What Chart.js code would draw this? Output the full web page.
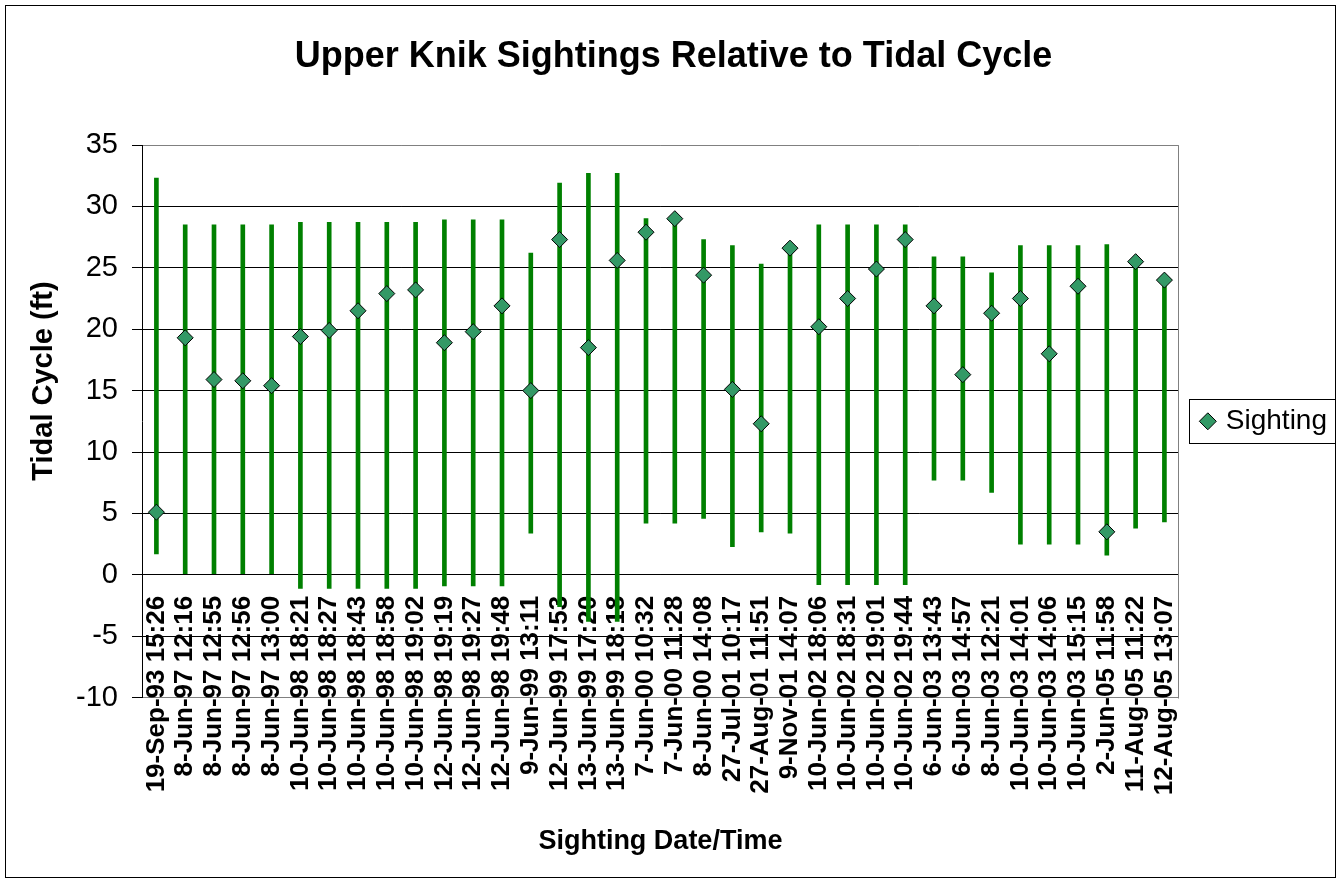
<!DOCTYPE html>
<html>
<head>
<meta charset="utf-8">
<script src="https://cdn.jsdelivr.net/npm/chart.js@4.4.1/dist/chart.umd.min.js"></script>
<style>
html,body{margin:0;padding:0;background:#fff;}
#wrap{width:1342px;height:883px;}
</style>
</head>
<body>
<div id="wrap"><canvas id="c" width="1342" height="883"></canvas></div>
<script>
// ---- Data ----
const categories = [
  '19-Sep-93 15:26','8-Jun-97 12:16','8-Jun-97 12:55','8-Jun-97 12:56','8-Jun-97 13:00',
  '10-Jun-98 18:21','10-Jun-98 18:27','10-Jun-98 18:43','10-Jun-98 18:58','10-Jun-98 19:02',
  '12-Jun-98 19:19','12-Jun-98 19:27','12-Jun-98 19:48','9-Jun-99 13:11','12-Jun-99 17:53',
  '13-Jun-99 17:20','13-Jun-99 18:18','7-Jun-00 10:32','7-Jun-00 11:28','8-Jun-00 14:08',
  '27-Jul-01 10:17','27-Aug-01 11:51','9-Nov-01 14:07','10-Jun-02 18:06','10-Jun-02 18:31',
  '10-Jun-02 19:01','10-Jun-02 19:44','6-Jun-03 13:43','6-Jun-03 14:57','8-Jun-03 12:21',
  '10-Jun-03 14:01','10-Jun-03 14:06','10-Jun-03 15:15','2-Jun-05 11:58','11-Aug-05 11:22',
  '12-Aug-05 13:07'
];
const highTide = [
  32.3, 28.5, 28.5, 28.5, 28.5,
  28.7, 28.7, 28.7, 28.7, 28.7,
  28.9, 28.9, 28.9, 26.2, 31.9,
  32.7, 32.7, 29.0, 29.0, 27.3,
  26.8, 25.3, 26.6, 28.5, 28.5,
  28.5, 28.5, 25.9, 25.9, 24.6,
  26.8, 26.8, 26.8, 26.9, 25.5,
  24.0
];
const lowTide = [
  1.7, 0.1, 0.1, 0.1, 0.1,
  -1.1, -1.1, -1.1, -1.1, -1.1,
  -0.9, -0.9, -0.9, 3.4, -2.6,
  -3.8, -3.8, 4.2, 4.2, 4.6,
  2.3, 3.5, 3.4, -0.8, -0.8,
  -0.8, -0.8, 7.7, 7.7, 6.7,
  2.5, 2.5, 2.5, 1.6, 3.8,
  4.3
];
const sighting = [
  5.1, 19.3, 15.9, 15.8, 15.4,
  19.4, 19.9, 21.5, 22.9, 23.2,
  18.9, 19.8, 21.9, 15.0, 27.3,
  18.5, 25.6, 27.9, 29.0, 24.4,
  15.1, 12.3, 26.6, 20.2, 22.5,
  24.9, 27.3, 21.9, 16.3, 21.3,
  22.5, 18.0, 23.5, 3.5, 25.5,
  24.0
];
const yMin = -10, yMax = 35, yStep = 5;
const chartTitle = 'Upper Knik Sightings Relative to Tidal Cycle';
const xTitle = 'Sighting Date/Time';
const yTitle = 'Tidal Cycle (ft)';
const seriesName = 'Sighting';

// ---- Styling helpers ----
Chart.defaults.font.family = "'Liberation Sans', Arial, sans-serif";
Chart.defaults.color = '#000';

const frame = {
  id: 'frame',
  beforeDraw(chart) {
    const ctx = chart.ctx;
    ctx.save();
    ctx.fillStyle = '#fff';
    ctx.fillRect(0, 0, chart.width, chart.height);
    ctx.strokeStyle = '#000';
    ctx.lineWidth = 1;
    ctx.strokeRect(5.5, 5.5, chart.width - 12, chart.height - 11);
    ctx.restore();
  },
  beforeDatasetsDraw(chart) {
    const a = chart.chartArea, ctx = chart.ctx;
    ctx.save();
    ctx.strokeStyle = '#808080';
    ctx.lineWidth = 1;
    const r = Math.round(a.right) - 0.5;
    ctx.beginPath();
    ctx.moveTo(r, Math.round(a.top) + 0.5);
    ctx.lineTo(r, Math.round(a.bottom) + 0.5);
    ctx.stroke();
    ctx.restore();
  },
  afterDraw(chart) {
    const lg = chart.legend;
    if (!lg || !lg.legendHitBoxes || !lg.legendHitBoxes.length) return;
    const hb = lg.legendHitBoxes[0];
    const ctx = chart.ctx;
    const cy = hb.top + hb.height / 2;
    const x0 = Math.round(hb.left - 15) + 0.5;
    const x1 = Math.round(hb.left + hb.width + 8) + 0.5;
    const y0 = Math.round(cy - 22) + 0.5;
    const y1 = Math.round(cy + 22) + 0.5;
    ctx.save();
    ctx.strokeStyle = '#000';
    ctx.lineWidth = 1;
    ctx.strokeRect(x0, y0, x1 - x0, y1 - y0);
    ctx.restore();
  }
};

new Chart(document.getElementById('c'), {
  data: {
    labels: categories,
    datasets: [
      {
        type: 'bar',
        label: 'Tidal range',
        data: lowTide.map((lo, i) => [lo, highTide[i]]),
        backgroundColor: '#008000',
        borderWidth: 0,
        barThickness: 4,
        order: 1
      },
      {
        type: 'line',
        label: seriesName,
        data: sighting,
        showLine: false,
        pointStyle: 'rectRot',
        pointRadius: 8,
        pointBackgroundColor: '#339966',
        pointBorderColor: '#000',
        pointBorderWidth: 1,
        backgroundColor: '#339966',
        borderColor: '#000',
        order: 0
      }
    ]
  },
  options: {
    responsive: false,
    animation: false,
    devicePixelRatio: 1,
    events: [],
    layout: { padding: { left: 10, right: 5, top: 0, bottom: 0 } },
    plugins: {
      tooltip: { enabled: false },
      title: {
        display: true,
        text: chartTitle,
        color: '#000',
        font: { size: 36, weight: 'bold' },
        padding: { top: 35, bottom: 66.8 }
      },
      subtitle: {
        display: true,
        position: 'bottom',
        fullSize: false,
        text: xTitle,
        color: '#000',
        font: { size: 27, weight: 'bold' },
        padding: { top: 128, bottom: 25 }
      },
      legend: {
        position: 'right',
        fullSize: false,
        labels: {
          filter: (item) => item.datasetIndex === 1,
          usePointStyle: true,
          boxWidth: 8,
          boxHeight: 12,
          padding: 25,
          color: '#000',
          font: { size: 28 }
        }
      }
    },
    scales: {
      x: {
        type: 'category',
        offset: true,
        position: { y: 0 },
        grid: { display: false, drawTicks: false },
        border: { display: true, color: '#000', width: 1 },
        ticks: {
          autoSkip: false,
          minRotation: 90,
          maxRotation: 90,
          padding: 21,
          color: '#000',
          font: { size: 26, weight: 'bold' }
        },
        afterFit: (s) => { s.height = 0; }
      },
      y: {
        min: yMin,
        max: yMax,
        ticks: { stepSize: yStep, padding: 14, color: '#000', font: { size: 29 } },
        grid: {
          color: (c) => (c.tick && (c.tick.value === yMax || c.tick.value === yMin)) ? '#808080' : '#000',
          tickColor: '#000',
          tickLength: 10,
          lineWidth: 1
        },
        border: { display: true, color: '#000', width: 1 },
        title: {
          display: true,
          text: ' '.repeat(10) + yTitle,
          color: '#000',
          font: { size: 29, weight: 'bold' },
          padding: { top: 17, bottom: 0 }
        },
        afterFit: (s) => { s.width = 132; }
      }
    }
  },
  plugins: [frame]
});
</script>
</body>
</html>
